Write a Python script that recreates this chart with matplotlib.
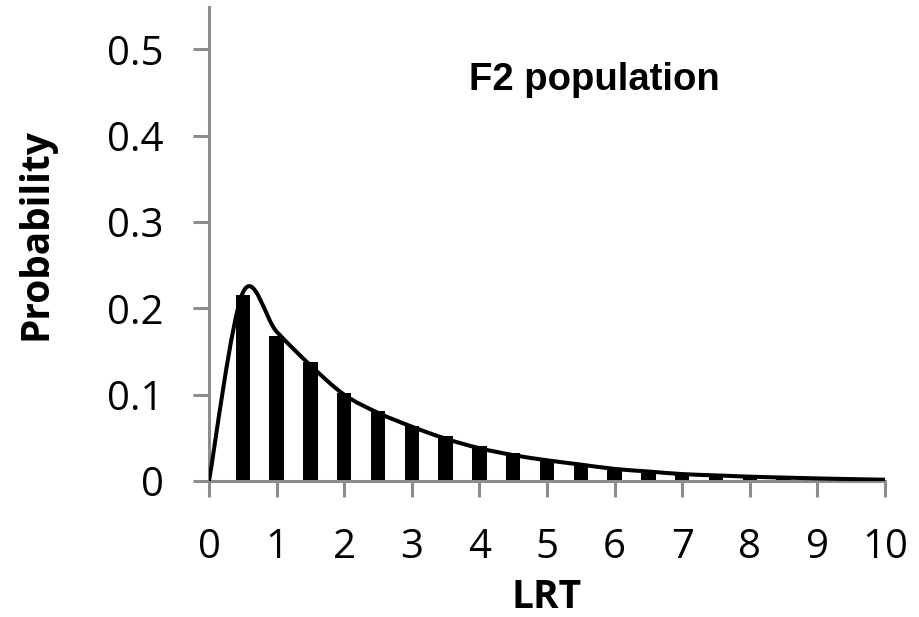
import matplotlib
matplotlib.use("Agg")
import matplotlib.pyplot as plt
from matplotlib.path import Path
from matplotlib.patches import PathPatch

# Bar data (LRT bins)
bar_x = [0.5, 1.0, 1.5, 2.0, 2.5, 3.0, 3.5, 4.0, 4.5, 5.0,
         5.5, 6.0, 6.5, 7.0, 7.5, 8.0, 8.5, 9.0, 9.5, 10.0]
bar_y = [0.216, 0.168, 0.138, 0.102, 0.081, 0.064, 0.052, 0.040, 0.032, 0.025,
         0.019, 0.015, 0.013, 0.008, 0.008, 0.005, 0.004, 0.003, 0.002, 0.002]

# Theoretical curve points (smoothed line)
curve_x = [0.0, 0.5, 1.0, 1.5, 2.0, 2.5, 3.0, 3.5, 4.0, 4.5, 5.0,
           5.5, 6.0, 6.5, 7.0, 7.5, 8.0, 8.5, 9.0, 9.5, 10.0]
curve_y = [0.0, 0.218, 0.173, 0.134, 0.100, 0.079, 0.063, 0.049, 0.038, 0.030, 0.024,
           0.019, 0.014, 0.011, 0.008, 0.0065, 0.005, 0.004, 0.003, 0.0022, 0.0015]

x_ticks = [0, 1, 2, 3, 4, 5, 6, 7, 8, 9, 10]
y_ticks = [0, 0.1, 0.2, 0.3, 0.4, 0.5]
y_tick_labels = ["0", "0.1", "0.2", "0.3", "0.4", "0.5"]

fig = plt.figure(figsize=(9.2, 6.17), dpi=100)
ax = fig.add_axes([209/920, 1-481/617, (885-209)/920, (481-7)/617])

ax.bar(bar_x, bar_y, width=0.215, color="black", zorder=2)

# Smooth (Catmull-Rom style, like a spreadsheet smoothed line) via Bezier path
pts = list(zip(curve_x, curve_y))
verts = [pts[0]]
codes = [Path.MOVETO]
n = len(pts)
for i in range(n - 1):
    p0 = pts[i - 1] if i > 0 else pts[i]
    p1 = pts[i]
    p2 = pts[i + 1]
    p3 = pts[i + 2] if i + 2 < n else pts[i + 1]
    c1 = (p1[0] + (p2[0] - p0[0]) / 6, p1[1] + (p2[1] - p0[1]) / 6)
    c2 = (p2[0] - (p3[0] - p1[0]) / 6, p2[1] - (p3[1] - p1[1]) / 6)
    verts += [c1, c2, p2]
    codes += [Path.CURVE4] * 3
ax.add_patch(PathPatch(Path(verts, codes), facecolor="none", edgecolor="black",
                       lw=2.9, zorder=3, capstyle="butt", joinstyle="round"))

ax.set_xlim(0, 10)
ax.set_ylim(0, 0.549)
ax.set_xticks(x_ticks)
ax.set_yticks(y_ticks)
ax.set_yticklabels(y_tick_labels)

for s in ["top", "right"]:
    ax.spines[s].set_visible(False)
spine_col = "#8c8c8c"
for s in ["left", "bottom"]:
    ax.spines[s].set_color(spine_col)
    ax.spines[s].set_linewidth(2.2)

ax.tick_params(axis="both", direction="out", length=11.5, width=2.2, color=spine_col)
ax.tick_params(axis="x", pad=22)
ax.tick_params(axis="y", pad=21)
for lab in ax.get_xticklabels() + ax.get_yticklabels():
    lab.set_fontfamily("Open Sans")
    lab.set_fontsize(29)

ax.set_xlabel("LRT", fontfamily="Open Sans", fontweight="bold", fontsize=28)
ax.set_ylabel("Probability", fontfamily="Open Sans", fontweight="bold", fontsize=28)
ax.xaxis.set_label_coords(0.5, -0.205)
ax.yaxis.set_label_coords(-0.227, 0.52)

ax.text(5.7, 0.464, "F2 population", fontfamily="Liberation Sans", fontweight="bold",
        fontsize=27.5, ha="center", va="center")

fig.savefig("out.png", dpi=100)
